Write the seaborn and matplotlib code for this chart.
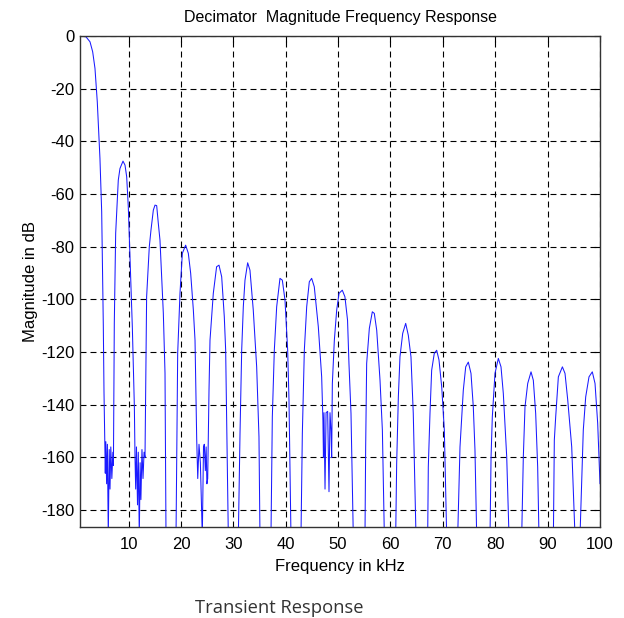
import matplotlib
matplotlib.use("Agg")
import matplotlib.pyplot as plt
import seaborn as sns
import pandas as pd

# ---- data ----
title_text = "Decimator  Magnitude Frequency Response"
x_label = "Frequency in kHz"
y_label = "Magnitude in dB"
caption = "Transient Response"
x_ticks = [10, 20, 30, 40, 50, 60, 70, 80, 90, 100]
y_ticks = [0, -20, -40, -60, -80, -100, -120, -140, -160, -180]

freq_khz = [
    # main lobe
    0.72, 1.86, 2.63, 3.14, 3.58, 4.02, 4.53, 4.86, 4.98, 5.17, 5.30, 5.45,
    # ripple cluster 1
    5.55, 5.65, 5.80, 5.95, 6.12, 6.30, 6.45, 6.60, 6.80, 7.00, 7.10,
    # lobe 1
    7.27, 7.53, 8.03, 8.35, 8.93, 9.31, 9.63, 9.94, 10.45, 10.71, 11.10, 11.22,
    # ripple cluster 2
    11.35, 11.50, 11.70, 11.85, 12.04, 12.20, 12.35, 12.55, 12.75, 12.95, 13.13,
    # lobe 2
    13.44, 13.95, 14.27, 14.72, 15.04, 15.36, 15.67, 15.99, 16.63, 16.95, 17.14,
    # lobe 3
    19.05, 19.37, 19.81, 20.26, 20.89, 21.40, 21.85, 22.36, 22.68, 23.00,
    # ripple cluster 3
    23.20, 23.44, 23.70, 24.07, 24.30, 24.45, 24.65, 24.80, 24.95,
    # lobe 4
    25.10, 25.35, 25.54, 26.17, 26.80, 27.26, 27.77, 28.27, 28.53, 28.90, 29.04,
    # lobe 5
    30.95, 31.27, 31.59, 31.90, 32.22, 32.73, 33.17, 33.80, 34.45, 34.89, 35.08,
    # lobe 6
    37.18, 37.44, 37.82, 38.27, 38.90, 39.35, 39.86, 40.37, 40.62, 41.00,
    # lobe 7
    42.91, 43.17, 43.55, 44.00, 44.50, 44.95, 45.45, 46.22, 46.86, 47.10,
    # ripple cluster 4
    47.20, 47.30, 47.50, 47.70, 48.00, 48.15, 48.26, 48.45, 48.65, 48.77,
    # lobe 8
    48.90, 49.28, 49.73, 50.17, 50.80, 51.30, 51.80, 52.07, 52.46, 52.90,
    # lobe 9
    55.13, 55.26, 55.45, 55.96, 56.53, 56.91, 57.37, 58.00, 58.45, 58.83,
    # lobe 10
    60.99, 61.18, 61.50, 61.81, 62.33, 62.90, 63.40, 63.91, 64.35, 64.87,
    # lobe 11
    67.10, 67.22, 67.54, 67.86, 68.36, 68.82, 69.26, 69.78, 70.28, 70.73,
    # lobe 12
    72.83, 73.27, 73.90, 74.36, 74.86, 75.37, 75.81, 76.13, 76.46,
    # lobe 13
    79.00, 79.20, 79.44, 79.95, 80.59, 81.10, 81.54, 82.19, 82.63,
    # lobe 14
    85.05, 85.36, 85.68, 86.20, 86.83, 87.27, 87.72, 88.10, 88.35,
    # lobe 15
    91.10, 91.28, 91.54, 92.05, 92.82, 93.32, 93.84, 94.60, 95.23,
    # lobe 16
    96.18, 96.50, 96.81, 97.27, 97.90, 98.53, 99.05, 99.56, 100.00,
]

mag_db = [
    # main lobe
    0.0, -0.3, -2.2, -6.0, -12.3, -25.0, -46.5, -66.7, -84.4, -109.8, -135.0, -153.0,
    # ripple cluster 1
    -166, -154, -170, -155, -190, -157, -172, -156, -168, -158, -163,
    # lobe 1
    -109.0, -74.9, -54.7, -50.3, -47.5, -49.0, -53.4, -64.8, -95.2, -110.4, -140.8, -159.8,
    # ripple cluster 2
    -172, -156, -178, -158, -190, -162, -176, -157, -168, -158, -160,
    # lobe 2
    -99.0, -80.0, -73.7, -66.1, -64.2, -64.4, -71.1, -77.5, -105.3, -128.0, -190,
    # lobe 3
    -190, -120.5, -97.7, -82.5, -79.4, -82.5, -90.1, -104.0, -115.5, -153.0,
    # ripple cluster 3
    -168, -155, -162, -190, -156, -155, -165, -156, -170,
    # lobe 4
    -168, -134.5, -115.5, -97.7, -87.6, -87.0, -91.4, -106.6, -119.3, -170.0, -190,
    # lobe 5
    -190, -150.9, -119.3, -102.8, -92.7, -86.1, -88.9, -104.0, -125.6, -152.2, -190,
    # lobe 6
    -190, -144.6, -119.3, -102.8, -92.0, -92.7, -100.3, -119.3, -138.2, -190,
    # lobe 7
    -190, -150.9, -119.3, -102.8, -93.3, -92.0, -95.2, -110.4, -129.4, -146.0,
    # ripple cluster 4
    -160, -143, -172, -143, -142.5, -160, -173, -143, -150, -160,
    # lobe 8
    -131.9, -115.5, -104.0, -97.7, -96.5, -99.0, -107.9, -124.3, -143.3, -190,
    # lobe 9
    -190, -156.0, -124.3, -111.0, -104.7, -105.3, -111.7, -130.7, -149.6, -190,
    # lobe 10
    -190, -162.3, -137.0, -121.8, -112.9, -109.1, -113.6, -121.8, -143.3, -190,
    # lobe 11
    -190, -163.6, -143.3, -126.9, -120.5, -119.3, -123.0, -133.2, -149.6, -190,
    # lobe 12
    -190, -156.0, -134.5, -125.6, -123.8, -128.1, -140.8, -157.2, -190,
    # lobe 13
    -190, -159.8, -144.6, -128.1, -122.4, -125.6, -135.7, -159.8, -190,
    # lobe 14
    -190, -159.8, -140.8, -131.9, -127.5, -130.7, -143.3, -163.6, -190,
    # lobe 15
    -190, -153.4, -144.6, -129.4, -125.6, -128.1, -138.2, -156.0, -190,
    # lobe 16
    -190, -169.9, -149.6, -137.0, -129.4, -127.5, -131.9, -147.1, -170.0,
]

# ---- drawing ----
sns.set_theme(style="white")
plt.rcParams['font.family'] = ['Liberation Sans', 'DejaVu Sans']
plt.rcParams['lines.scale_dashes'] = False

fig = plt.figure(figsize=(6.24, 6.18), dpi=100)
ax = fig.add_axes([80 / 624, 1 - 527 / 618, 520 / 624, (527 - 36) / 618])

df = pd.DataFrame({"freq": freq_khz, "mag": mag_db})
sns.lineplot(data=df, x="freq", y="mag", sort=False, estimator=None,
             color="#1a1aff", linewidth=0.75, ax=ax)

ax.set_xlim(0.72, 100)
ax.set_ylim(-186.4, 0)
ax.set_xticks(x_ticks)
ax.set_yticks(y_ticks)
ax.set_xticklabels([str(t) for t in x_ticks])
ax.set_yticklabels([str(t) for t in y_ticks])

ax.grid(True, color="black", linestyle=(0, (4.3, 2.9)), linewidth=0.8)
ax.set_axisbelow(True)
ax.tick_params(direction="in", length=4, width=0.8, top=True, right=True,
               labelsize=12, colors="black", pad=4)
ax.tick_params(axis="x", pad=7)
for sp in ax.spines.values():
    sp.set_color("#333333")
    sp.set_linewidth(1.0)

ax.set_title(title_text, fontsize=11.5, pad=10, color="black")
ax.set_xlabel(x_label, fontsize=12, labelpad=5, color="black")
ax.set_ylabel(y_label, fontsize=12, labelpad=2, color="black")

fig.text(279 / 624, 1 - 608 / 618, caption, ha="center", va="center",
         fontsize=13.2, family=["Open Sans", "DejaVu Sans"], color="#333333")

fig.savefig("out.png", dpi=100)
